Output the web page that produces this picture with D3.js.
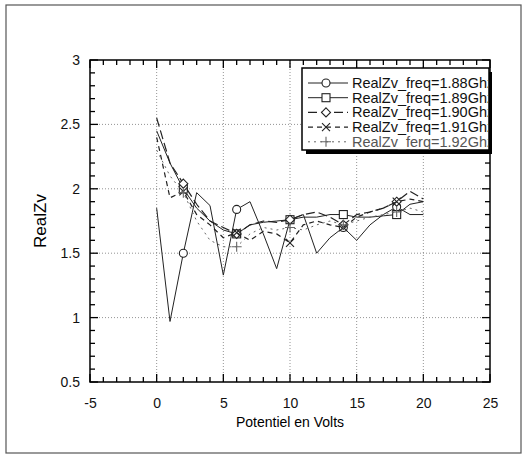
<!DOCTYPE html>
<html>
<head>
<meta charset="utf-8">
<script src="https://cdn.jsdelivr.net/npm/d3@7"></script>
<style>
  body { margin: 0; background: #fff; }
  text { font-family: "Liberation Sans", Arial, sans-serif; }
</style>
</head>
<body>
<div id="chart"></div>
<script>
// tension values (V)
const volts = d3.range(0, 21);

const seriesNames = ["RealZv_freq=1.88Ghz", "RealZv_freq=1.89Ghz", "RealZv_freq=1.90Ghz",
                     "RealZv_freq=1.91Ghz", "RealZv_ferq=1.92Ghz"];

const z188 = [1.85, 0.97, 1.50, 1.97, 1.87, 1.33, 1.84, 1.90, 1.65, 1.38, 1.76,
              1.80, 1.50, 1.62, 1.70, 1.60, 1.72, 1.80, 1.86, 1.80, 1.80];
const z189 = [2.45, 2.20, 2.00, 1.85, 1.75, 1.68, 1.65, 1.72, 1.74, 1.75, 1.76,
              1.78, 1.78, 1.80, 1.80, 1.78, 1.78, 1.79, 1.80, 1.88, 1.90];
const z190 = [2.55, 2.20, 2.04, 1.88, 1.75, 1.70, 1.65, 1.72, 1.75, 1.74, 1.76,
              1.80, 1.82, 1.78, 1.72, 1.80, 1.82, 1.85, 1.90, 1.98, 1.92];
const z191 = [2.40, 1.93, 1.98, 1.80, 1.72, 1.62, 1.66, 1.60, 1.67, 1.65, 1.58,
              1.72, 1.75, 1.72, 1.70, 1.78, 1.82, 1.85, 1.90, 1.92, 1.90];
const z192 = [2.30, 2.10, 1.97, 1.75, 1.60, 1.55, 1.55, 1.65, 1.70, 1.68, 1.70,
              1.68, 1.72, 1.75, 1.72, 1.75, 1.78, 1.80, 1.82, 1.85, 1.82];

const markerVolts = [2, 6, 10, 14, 18];
const xTicks = [-5, 0, 5, 10, 15, 20, 25];
const yTicks = [0.5, 1, 1.5, 2, 2.5, 3];

const width = 526, height = 455;
const margin = ({ top: 60, right: 36, bottom: 73, left: 90 });

const svg = d3.select("#chart")
  .append("svg")
  .attr("width", width)
  .attr("height", height);

// outer frame
svg.append("rect")
  .attr("x", 6).attr("y", 5)
  .attr("width", 515).attr("height", 448)
  .attr("fill", "none")
  .attr("stroke", "#555")
  .attr("stroke-width", 1.2);

const x = d3.scaleLinear().domain([-5, 25]).range([margin.left, width - margin.right]);
const y = d3.scaleLinear().domain([0.5, 3]).range([height - margin.bottom, margin.top]);

// grid
svg.append("g").selectAll("line")
  .data(xTicks.slice(1, -1))
  .join("line")
  .attr("x1", d => x(d)).attr("x2", d => x(d))
  .attr("y1", y(0.5)).attr("y2", y(3))
  .attr("stroke", "#777").attr("stroke-width", 0.8).attr("stroke-dasharray", "1,2");

svg.append("g").selectAll("line")
  .data(yTicks.slice(1, -1))
  .join("line")
  .attr("x1", x(-5)).attr("x2", x(25))
  .attr("y1", d => y(d)).attr("y2", d => y(d))
  .attr("stroke", "#777").attr("stroke-width", 0.8).attr("stroke-dasharray", "1,2");

// tick labels through d3 axes (no tick lines), ticks drawn inward below
svg.append("g")
  .attr("transform", `translate(0,${y(0.5)})`)
  .call(d3.axisBottom(x).tickValues(xTicks).tickSize(0).tickPadding(16).tickFormat(d => d))
  .call(g => g.select(".domain").remove())
  .selectAll("text").attr("font-size", 14).attr("fill", "#111");

svg.append("g")
  .attr("transform", `translate(${x(-5)},0)`)
  .call(d3.axisLeft(y).tickValues(yTicks).tickSize(0).tickPadding(10).tickFormat(d => d))
  .call(g => g.select(".domain").remove())
  .selectAll("text").attr("font-size", 14).attr("fill", "#111");

// inward ticks on all four sides
const minorX = d3.range(-5, 26, 1), minorY = d3.range(5, 31, 1).map(d => d / 10);
const ticks = svg.append("g").attr("stroke", "#000").attr("stroke-width", 1.3);
[[y(0.5), -1], [y(3), 1]].forEach(([yy, dir]) => {
  ticks.append("g").selectAll("line").data(minorX).join("line")
    .attr("x1", d => x(d)).attr("x2", d => x(d))
    .attr("y1", yy).attr("y2", d => yy + dir * (xTicks.includes(d) ? 8 : 5));
});
[[x(-5), 1], [x(25), -1]].forEach(([xx, dir]) => {
  ticks.append("g").selectAll("line").data(minorY).join("line")
    .attr("y1", d => y(d)).attr("y2", d => y(d))
    .attr("x1", xx).attr("x2", d => xx + dir * (yTicks.some(t => Math.abs(t - d) < 1e-9) ? 8 : 5));
});

// plot frame
svg.append("rect")
  .attr("x", x(-5)).attr("y", y(3))
  .attr("width", x(25) - x(-5)).attr("height", y(0.5) - y(3))
  .attr("fill", "none").attr("stroke", "#000").attr("stroke-width", 1.5);

// axis titles
svg.append("text")
  .attr("x", (x(-5) + x(25)) / 2)
  .attr("y", 427)
  .attr("text-anchor", "middle")
  .attr("font-size", 14)
  .text("Potentiel en Volts");

svg.append("text")
  .attr("transform", `translate(46,${y(1.75)}) rotate(-90)`)
  .attr("text-anchor", "middle")
  .attr("font-size", 17)
  .text("RealZv");

// series
const allSeries = [z188, z189, z190, z191, z192];
const styles = [
  { dash: null, color: "#222", w: 1, sym: "circle" },
  { dash: null, color: "#222", w: 1, sym: "square" },
  { dash: "9,4", color: "#222", w: 1.2, sym: "diamond" },
  { dash: "5,4", color: "#222", w: 1.2, sym: "cross" },
  { dash: "2,4", color: "#666", w: 1, sym: "plus" }
];

const line = d3.line().x((d, i) => x(volts[i])).y(d => y(d));

function drawMarker(g, sym, cx, cy, color) {
  const m = g.append("g").attr("transform", `translate(${cx},${cy})`)
    .attr("stroke", color).attr("stroke-width", 1.1).attr("fill", "#fff");
  if (sym === "circle") m.append("circle").attr("r", 4);
  if (sym === "square") m.append("rect").attr("x", -4).attr("y", -4).attr("width", 8).attr("height", 8);
  if (sym === "diamond") m.append("path").attr("d", "M0,-4.5L4.5,0L0,4.5L-4.5,0Z");
  if (sym === "cross") m.append("path").attr("d", "M-4,-4L4,4M-4,4L4,-4");
  if (sym === "plus") m.append("path").attr("d", "M-5,0L5,0M0,-5L0,5");
}

allSeries.forEach((vals, k) => {
  const st = styles[k];
  svg.append("path")
    .datum(vals)
    .attr("d", line)
    .attr("fill", "none")
    .attr("stroke", st.color)
    .attr("stroke-width", st.w)
    .attr("stroke-dasharray", st.dash);
  markerVolts.forEach(v => drawMarker(svg, st.sym, x(v), y(vals[volts.indexOf(v)]), st.color));
});

// legend
const lx = 302, ly = 68, lw = 189, lh = 82;
svg.append("defs").append("clipPath").attr("id", "legclip")
  .append("rect").attr("x", lx).attr("y", ly).attr("width", lw - 3).attr("height", lh);

svg.append("rect")
  .attr("x", lx + 4).attr("y", ly + 4).attr("width", lw - 3).attr("height", lh)
  .attr("fill", "#000");
svg.append("rect")
  .attr("x", lx).attr("y", ly).attr("width", lw - 2).attr("height", lh)
  .attr("fill", "#fff").attr("stroke", "#000").attr("stroke-width", 1.5);

const leg = svg.append("g").attr("clip-path", "url(#legclip)");
seriesNames.forEach((name, k) => {
  const st = styles[k];
  const yy = ly + 15 + k * 14.7;
  leg.append("line")
    .attr("x1", lx + 6).attr("x2", lx + 46)
    .attr("y1", yy).attr("y2", yy)
    .attr("stroke", st.color).attr("stroke-width", st.w)
    .attr("stroke-dasharray", st.dash);
  drawMarker(leg, st.sym, lx + 24, yy, st.color);
  leg.append("text")
    .attr("x", lx + 50).attr("y", yy + 5)
    .attr("font-size", 14.5)
    .attr("fill", k === 4 ? "#555" : "#111")
    .text(name);
});
</script>
</body>
</html>
